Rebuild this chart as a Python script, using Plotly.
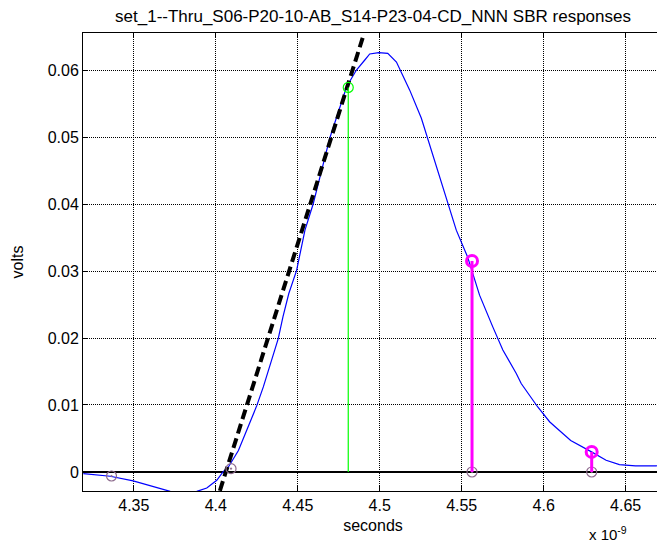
import plotly.graph_objects as go

# SBR pulse response, time in units of 1e-9 s
time_ns = [4.3192, 4.3356, 4.3496, 4.3643, 4.3722, 4.3800, 4.3884, 4.3945, 4.4006,
           4.4044, 4.4077, 4.4138, 4.4250, 4.4290, 4.4381, 4.4410, 4.4445, 4.4493,
           4.4544, 4.4594, 4.4696, 4.4798, 4.4858, 4.4909, 4.4939, 4.4994, 4.5049,
           4.5102, 4.5183, 4.5254, 4.5360, 4.5467, 4.5536, 4.5609, 4.5689, 4.5720,
           4.5751, 4.5833, 4.5863, 4.5964, 4.5995, 4.6036, 4.6077, 4.6165,
           4.6292, 4.6381, 4.6462, 4.6560, 4.6686, 4.6724]
volts = [-0.00024, -0.00064, -0.00134, -0.00243, -0.00290, -0.00320, -0.00290, -0.00240, -0.00124,
         0.0000, 0.00075, 0.0032, 0.0099, 0.0127, 0.0199, 0.0232, 0.0266, 0.0301,
         0.0361, 0.0400, 0.0499, 0.0575, 0.0600, 0.0615, 0.0624, 0.0626, 0.0625,
         0.0612, 0.0570, 0.0528, 0.0445, 0.0361, 0.0321, 0.0264, 0.0217, 0.0199,
         0.0182, 0.0147, 0.0132, 0.0097, 0.0087, 0.0075, 0.0066, 0.0047,
         0.0030, 0.00175, 0.0011, 0.0009, 0.0009, 0.0013]

# tangent (max slope) line
tangent_t = [4.4025, 4.4896]
tangent_v = [-0.0028, 0.0648]

# sample cursors
sample_t = [4.3364, 4.4093, 4.5563, 4.6293]
sample_v = [-0.0006, 0.0005, 0.0, 0.0]

main_t = [4.4808]
main_v = [0.0574]

post_t = [4.5563, 4.6293]
post_v = [0.0315, 0.0030]

x_ticks = [4.35, 4.40, 4.45, 4.50, 4.55, 4.60, 4.65]
y_ticks = [0, 0.01, 0.02, 0.03, 0.04, 0.05, 0.06]


def stems(ts, vs):
    xs, ys = [], []
    for t, v in zip(ts, vs):
        xs += [t, t, None]
        ys += [0, v, None]
    return xs, ys


FONT = "Liberation Sans, Arial, sans-serif"

fig = go.Figure()

fig.add_trace(go.Scatter(x=time_ns, y=volts, mode='lines',
                         line=dict(color='#0000ff', width=1.2)))
fig.add_trace(go.Scatter(x=tangent_t, y=tangent_v, mode='lines',
                         line=dict(color='black', width=4, dash='10px,5px')))
fig.add_trace(go.Scatter(x=sample_t, y=sample_v, mode='markers',
                         marker=dict(symbol='circle-open-dot', size=10, color='#8c6a8c',
                                     line=dict(width=1.2))))

sx, sy = stems(main_t, main_v)
fig.add_trace(go.Scatter(x=sx, y=sy, mode='lines', line=dict(color='#00ff00', width=1.2)))
fig.add_trace(go.Scatter(x=main_t, y=main_v, mode='markers',
                         marker=dict(symbol='circle-open', size=10, color='#00ff00',
                                     line=dict(width=1.2))))

px_, py_ = stems(post_t, post_v)
fig.add_trace(go.Scatter(x=px_, y=py_, mode='lines', line=dict(color='#ff00ff', width=3)))
fig.add_trace(go.Scatter(x=post_t, y=post_v, mode='markers',
                         marker=dict(symbol='circle-open', size=11, color='#ff00ff',
                                     line=dict(width=3))))

axis_common = dict(showline=True, linecolor='black', linewidth=1, mirror='ticks',
                   ticks='inside', ticklen=5, tickcolor='black',
                   showgrid=True, gridcolor='black', gridwidth=1, griddash='1px,1px',
                   tickfont=dict(family=FONT, size=16, color='black'))

fig.update_xaxes(range=[4.3190, 4.6728], tickvals=x_ticks,
                 ticktext=['4.35', '4.4', '4.45', '4.5', '4.55', '4.6', '4.65'],
                 zeroline=False,
                 title=dict(text='seconds', font=dict(family=FONT, size=16, color='black'),
                            standoff=6),
                 **axis_common)
fig.update_yaxes(range=[-0.00284, 0.06553], tickvals=y_ticks,
                 ticktext=['0', '0.01', '0.02', '0.03', '0.04', '0.05', '0.06'],
                 zeroline=True, zerolinecolor='black', zerolinewidth=2,
                 title=dict(text='volts', font=dict(family=FONT, size=16, color='black'),
                            standoff=20),
                 **axis_common)

fig.add_annotation(text='x 10<sup>-9</sup>', xref='paper', yref='paper',
                   x=0.905, y=-0.092, xanchor='center', yanchor='middle',
                   showarrow=False, font=dict(family=FONT, size=15, color='black'))

# the page body adds an 8px offset, so the figure is 8px smaller in each direction
fig.update_layout(
    title=dict(text='set_1--Thru_S06-P20-10-AB_S14-P23-04-CD_NNN SBR responses',
               x=(75 + 655) / 2 / 657, xanchor='center', y=1 - 8 / 535, yanchor='middle',
               font=dict(family=FONT, size=17, color='black')),
    width=657, height=535, autosize=False,
    margin=dict(l=75, r=2, t=25, b=52),
    showlegend=False,
    plot_bgcolor='white', paper_bgcolor='white',
)

fig.write_html("out.html")
